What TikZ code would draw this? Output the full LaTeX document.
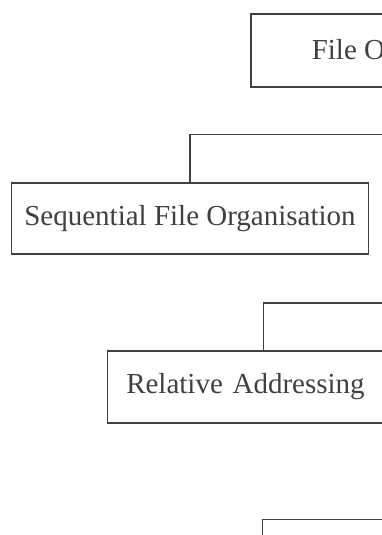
\documentclass[tikz,border=0pt]{standalone}
\usepackage{fontspec}
\setmainfont{Liberation Serif}
\definecolor{boxgray}{RGB}{64,64,64}

\begin{document}
\begin{tikzpicture}[
  x=1pt, y=1pt,
  every node/.style={font=\fontsize{29}{34}\selectfont, text=boxgray},
  box/.style={draw=boxgray, line width=1.5pt, minimum height=72pt, inner xsep=13pt},
  link/.style={draw=boxgray, line width=1.5pt}
]
\useasboundingbox (0,0) rectangle (382,-535);
\clip (0,0) rectangle (382,-535);

% ===== Boxes =====
\node[box, anchor=west, minimum height=73pt, inner xsep=61pt, text depth=3pt] (root) at (250,-50.5) {File Organisation};
\node[box, minimum height=71pt] (seq) at (190,-218.5) {Sequential File Organisation};
\node[box, anchor=west, inner xsep=19pt, text width=274pt, align=left] (rel) at (106.5,-387) {Relative Addressing};

% ===== Elbows from the trunk (off to the right) =====
\coordinate (tap1) at (430,-134.5);
\coordinate (tap2) at (430,-303);
\coordinate (tap3) at (430,-519.5);
\coordinate (nextTop) at (262.5,-560); % next child, below the frame

\draw[link] (tap1) -| (seq.north);
\draw[link] (tap2) -| (rel.north);
\draw[link] (tap3) -| (nextTop);
\end{tikzpicture}
\end{document}
